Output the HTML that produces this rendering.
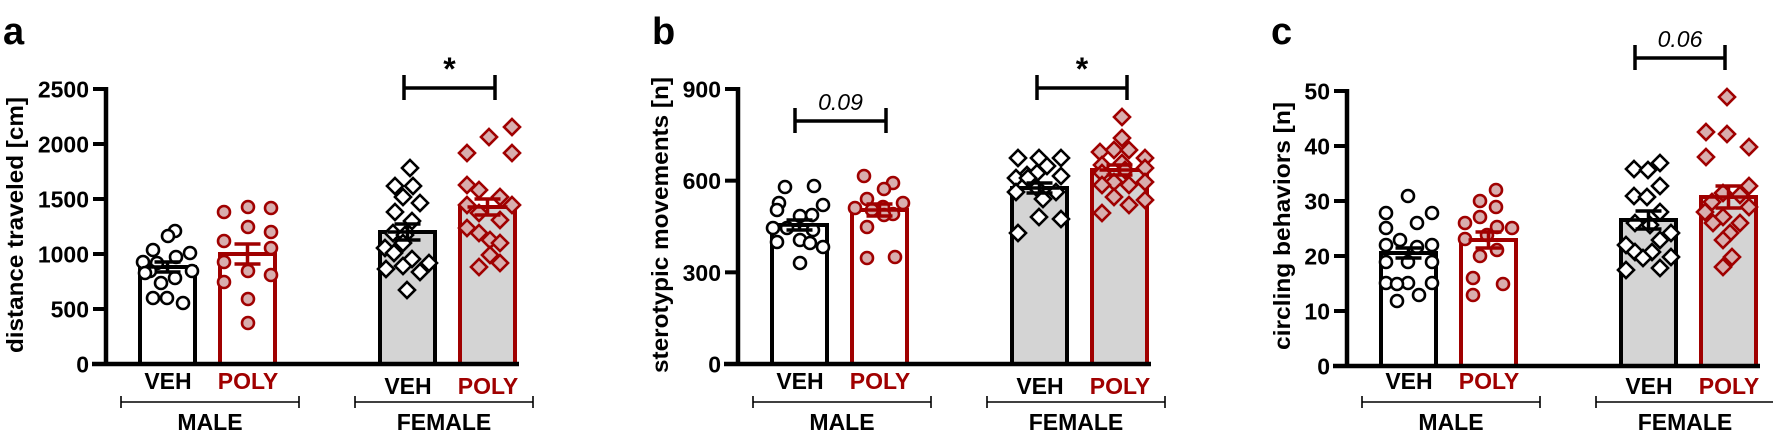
<!DOCTYPE html>
<html><head><meta charset="utf-8"><style>
html,body{margin:0;padding:0;background:#fff;}
svg{display:block;font-family:"Liberation Sans",Arial,sans-serif;}
</style></head><body>
<svg id="s" width="1773" height="441" viewBox="0 0 1773 441" xmlns="http://www.w3.org/2000/svg"></svg>
<script>
const R="#a00000",PF="#d8aeae",G="#d4d4d4";
let h="";
function L(x1,y1,x2,y2,c,w){h+=`<line x1="${x1}" y1="${y1}" x2="${x2}" y2="${y2}" stroke="${c}" stroke-width="${w}"/>`;}
function T(x,y,t,o){h+=`<text x="${x}" y="${y}" ${o||''}>${t}</text>`;}
function circ(p,c,f){p.forEach(([x,y])=>h+=`<circle cx="${x}" cy="${y}" r="6" fill="${f}" stroke="${c}" stroke-width="2.6"/>`);}
function dia(p,c,f){p.forEach(([x,y])=>h+=`<polygon points="${x},${y-8} ${x+8},${y} ${x},${y+8} ${x-8},${y}" fill="${f}" stroke="${c}" stroke-width="2.6"/>`);}
function panel(o){
 const ax=o.ax,y0=o.y0,top=o.top;
 // bars
 const bx=[ax+32,ax+112,ax+272,ax+352];
 const cols=["#000",R,"#000",R],fills=["#fff","#fff",G,G];
 for(let i=0;i<4;i++){h+=`<rect x="${bx[i]+2}" y="${o.m[i]}" width="55" height="${y0-o.m[i]}" fill="${fills[i]}" stroke="${cols[i]}" stroke-width="4"/>`;}
 circ(o.p[0],"#000","#fff");circ(o.p[1],R,PF);dia(o.p[2],"#000","#fff");dia(o.p[3],R,PF);
 for(let i=0;i<4;i++){const cx=bx[i]+29.5,c=cols[i],m=o.m[i],s=o.s[i];
  L(cx-20,m,cx+20,m,c,3.5);L(cx,m-s,cx,m+s,c,3.5);L(cx-13,m-s,cx+13,m-s,c,3.5);L(cx-13,m+s,cx+13,m+s,c,3.5);}
 // axes
 L(ax,top-2,ax,y0+2,"#000",4.5);L(ax-14,y0,bx[3]+61,y0,"#000",4.5);
 o.t.forEach((v,i)=>{const y=y0-(y0-top)*i/(o.t.length-1);L(ax-13,y,ax,y,"#000",4);T(ax-17,y+8.5,v,'font-size="23" font-weight="bold" text-anchor="end"');});
 T(o.lx,o.ly,o.lab,`font-size="23" font-weight="bold" text-anchor="middle" transform="rotate(-90 ${o.lx} ${o.ly})" textLength="${o.ll}" lengthAdjust="spacingAndGlyphs"`);
 T(o.px,44,o.pl,'font-size="38" font-weight="bold"');
 // group labels
 const lab=[["VEH","#000",389],["POLY",R,389],["VEH","#000",394],["POLY",R,394]];
 for(let i=0;i<4;i++)T(bx[i]+30,lab[i][2],lab[i][0],`font-size="23" font-weight="bold" text-anchor="middle" fill="${lab[i][1]}"`);
 [[ax+15,ax+193,"MALE"],[ax+249,ax+427,"FEMALE"]].forEach(([a,b,t])=>{L(a,402,b,402,"#000",1.6);L(a,396,a,408,"#000",1.6);L(b,396,b,408,"#000",1.6);T((a+b)/2,430,t,'font-size="23" font-weight="bold" text-anchor="middle"');});
 o.br.forEach(([x1,x2,y,t,it])=>{L(x1,y,x2,y,"#000",3.5);L(x1,y-13,x1,y+12,"#000",3.5);L(x2,y-13,x2,y+12,"#000",3.5);
  if(it)T((x1+x2)/2,y-11,t,'font-size="23" font-style="italic" text-anchor="middle"');else T((x1+x2)/2,y-8,"*",'font-size="32" font-weight="bold" text-anchor="middle"');});
}
panel({ax:106,y0:364,top:89,t:["0","500","1000","1500","2000","2500"],lab:"distance traveled [cm]",lx:23,ly:225,ll:256,px:3,pl:"a",
 m:[267,254,232,207],s:[5,10,8,8],
 br:[[404,495,88,"*",false]],
 p:[[[175,231],[168,236],[153,250],[190,253],[176,257],[143,262],[157,263],[192,271],[150,271],[175,278],[161,283],[153,298],[167,298],[183,303],[145,273]],
 [[224,212],[248,207],[271,208],[248,227],[271,232],[224,241],[271,248],[224,262],[248,271],[271,275],[224,282],[248,299],[248,323]],
 [[410,168],[395,186],[413,186],[403,197],[420,203],[395,212],[412,221],[393,233],[405,235],[385,248],[403,243],[394,253],[412,259],[429,263],[386,269],[403,266],[420,272],[407,290]],
 [[467,153],[489,137],[512,127],[512,153],[467,185],[479,190],[500,197],[467,205],[512,205],[479,213],[500,220],[467,228],[479,233],[490,240],[500,243],[490,255],[479,267],[500,263]]]});
panel({ax:738,y0:364,top:89,t:["0","300","600","900"],lab:"sterotypic movements [n]",lx:668,ly:225,ll:296,px:652,pl:"b",
 m:[225,210,188,170],s:[5,6,5,5],
 br:[[795,886,121,"0.09",true],[1037,1127,88,"*",false]],
 p:[[[785,187],[814,186],[779,203],[823,205],[777,210],[800,216],[812,215],[773,228],[787,228],[813,230],[777,242],[800,240],[810,243],[823,247],[800,263]],
 [[864,176],[893,183],[884,189],[867,199],[903,203],[855,208],[883,207],[872,210],[893,214],[884,215],[867,227],[867,258],[895,257]],
 [[1018,158],[1039,158],[1061,158],[1027,175],[1047,166],[1061,176],[1016,178],[1037,173],[1016,192],[1037,188],[1056,192],[1043,199],[1039,217],[1061,219],[1018,233],[1028,178]],
 [[1122,117],[1122,138],[1100,152],[1114,150],[1129,150],[1145,158],[1102,165],[1122,163],[1145,168],[1102,173],[1125,170],[1114,182],[1145,182],[1102,185],[1129,185],[1114,197],[1145,200],[1129,205],[1102,213]]]});
panel({ax:1347,y0:366,top:91,t:["0","10","20","30","40","50"],lab:"circling behaviors [n]",lx:1290,ly:226,ll:248,px:1271,pl:"c",
 m:[253,240,220,197],s:[5,8,9,11],
 br:[[1635,1725,58,"0.06",true]],
 p:[[[1408,196],[1386,213],[1432,213],[1417,223],[1386,228],[1400,240],[1386,245],[1432,245],[1417,247],[1408,262],[1386,262],[1432,262],[1386,283],[1408,283],[1432,283],[1397,284],[1419,295],[1397,301]],
 [[1496,190],[1480,201],[1496,207],[1480,217],[1465,223],[1497,227],[1512,228],[1465,239],[1497,250],[1480,256],[1473,278],[1503,284],[1473,295],[1487,235]],
 [[1634,169],[1660,163],[1648,170],[1660,186],[1634,196],[1647,197],[1660,212],[1635,223],[1650,225],[1671,233],[1626,245],[1660,240],[1635,252],[1652,252],[1671,257],[1643,258],[1626,270],[1660,268]],
 [[1727,97],[1706,132],[1727,134],[1749,147],[1706,157],[1749,186],[1723,193],[1740,195],[1712,202],[1749,207],[1705,212],[1723,217],[1740,223],[1713,223],[1730,233],[1723,240],[1732,257],[1723,267]]]});
document.getElementById("s").innerHTML=h;
</script>
</body></html>
